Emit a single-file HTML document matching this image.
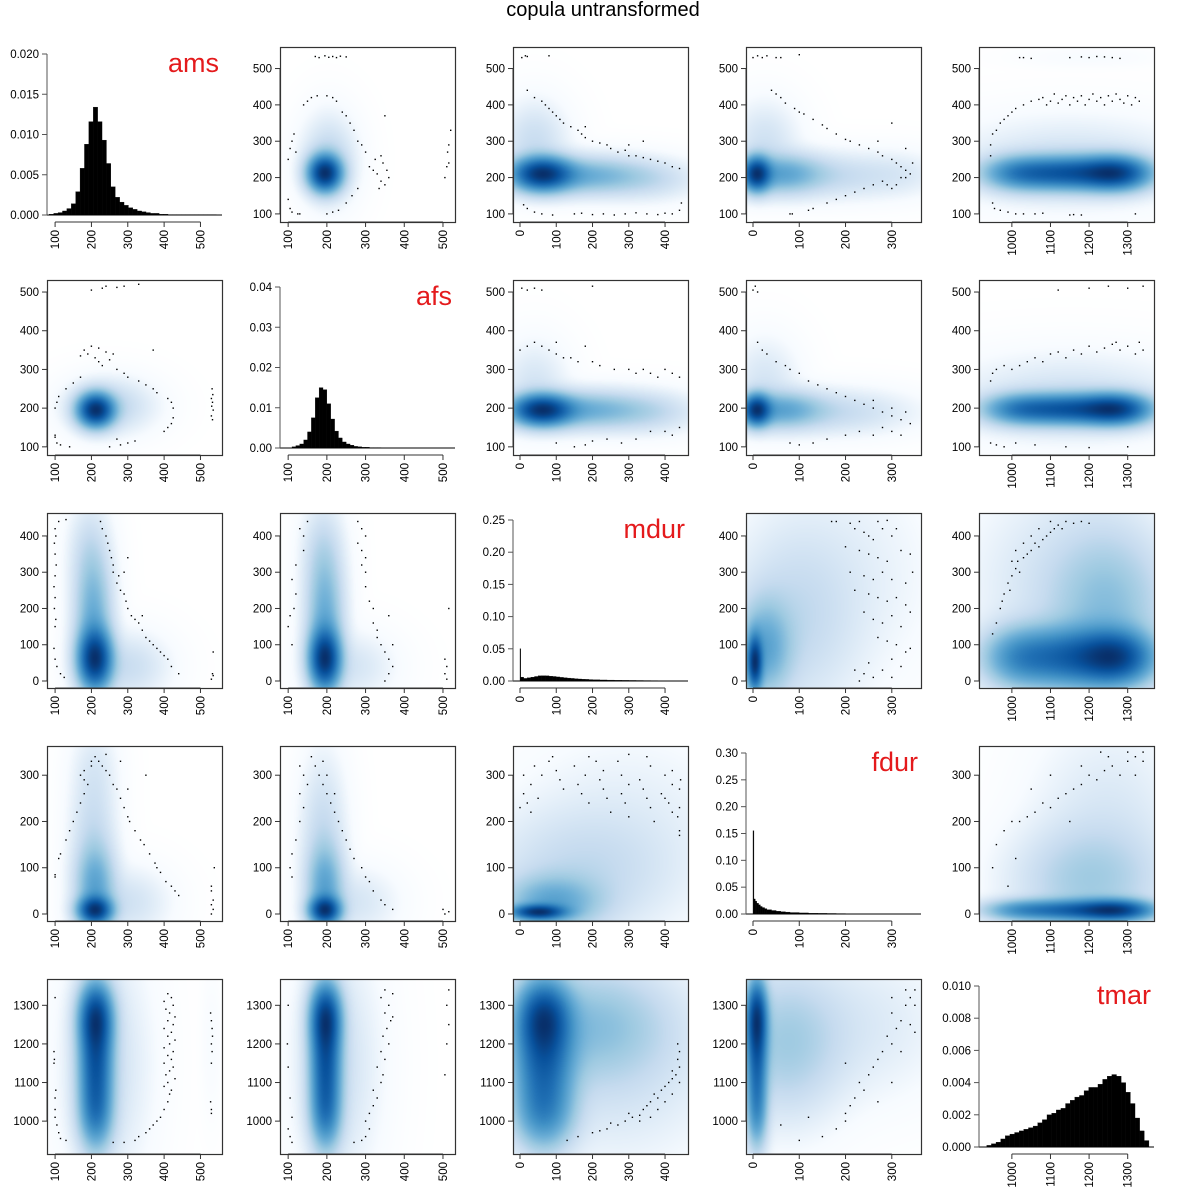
<!DOCTYPE html>
<html><head><meta charset="utf-8"><style>
html,body{margin:0;padding:0;background:#fff}
#wrap{position:relative;width:1200px;height:1200px}
canvas,svg{position:absolute;left:0;top:0}
svg text{font-family:"Liberation Sans",sans-serif}
</style></head><body>
<div id="wrap">
<canvas id="cv" width="1200" height="1200"></canvas>
<svg id="sv" width="1200" height="1200" xmlns="http://www.w3.org/2000/svg">
<text x="603" y="16" font-size="20" text-anchor="middle">copula untransformed</text>
</svg>
</div>
<script>
const varNames = ['ams','afs','mdur','fdur','tmar'];
const varMin = [97, 97, 0, 0, 933];
const varMax = [540, 513, 444, 348, 1350];
const ticks_ams = [100,200,300,400,500];
const ticks_afs = [100,200,300,400,500];
const ticks_mdur = [0,100,200,300,400];
const ticks_fdur = [0,100,200,300];
const ticks_tmar = [1000,1100,1200,1300];
const histMax = [0.020, 0.04, 0.25, 0.30, 0.010];
const histTicks_ams = ['0.000','0.005','0.010','0.015','0.020'];
const histTicks_afs = ['0.00','0.01','0.02','0.03','0.04'];
const histTicks_mdur = ['0.00','0.05','0.10','0.15','0.20','0.25'];
const histTicks_fdur = ['0.00','0.05','0.10','0.15','0.20','0.25','0.30'];
const histTicks_tmar = ['0.000','0.002','0.004','0.006','0.008','0.010'];

const hist_ams_start = 84, hist_ams_width = 12.1;
const hist_ams = [0.0001,0.0002,0.0003,0.0005,0.0008,0.0014,0.0029,0.0058,0.0088,0.0116,0.0134,0.0116,0.0093,0.0064,0.0035,0.0022,0.0016,0.0012,0.0009,0.0007,0.0005,0.0004,0.0003,0.0002,0.0002,0.0001,0.0001,0.00005,0.00005,0.00005,0.00005,0.00005,0.00005,0.00005,0.00005,0.00005,0.00005,0.00005];
const hist_afs_start = 110, hist_afs_width = 10;
const hist_afs = [0.0003,0.0006,0.001,0.002,0.004,0.0075,0.0125,0.015,0.0145,0.011,0.0072,0.0042,0.0025,0.0015,0.001,0.0007,0.0004,0.0003,0.0002,0.0002,0.0001,0.0001,0.0001,0.00005,0.00005,0.00005,0.00005,0.00005,0.00005,0.00005,0.00005,0.00005,0.00005,0.00005,0.00005,0.00005,0.00005,0.00005,0.00005,0.00005];
const hist_mdur_edges = [0,2,10,20,30,40,50,60,70,80,90,100,110,120,130,140,150,160,170,180,190,200,220,240,260,280,300,320,340,360,380,400,420,444];
const hist_mdur = [0.05,0.006,0.004,0.005,0.006,0.007,0.008,0.0082,0.008,0.0075,0.007,0.0063,0.0056,0.005,0.0045,0.004,0.0035,0.0031,0.0028,0.0025,0.0022,0.0019,0.0016,0.0014,0.0012,0.001,0.0009,0.0008,0.0007,0.0006,0.0005,0.0005,0.0004];
const hist_fdur_edges = [0,2,5,8,12,16,20,25,30,40,50,60,70,80,100,120,140,160,180,200,230,260,290,320,348];
const hist_fdur = [0.155,0.028,0.024,0.02,0.017,0.014,0.012,0.01,0.008,0.0065,0.0052,0.0042,0.0035,0.0027,0.002,0.0015,0.0012,0.001,0.0008,0.0006,0.0005,0.0004,0.0003,0.0003];
const hist_tmar_start = 935, hist_tmar_width = 12;
const hist_tmar = [0.0001,0.0002,0.0003,0.0005,0.0007,0.0008,0.0009,0.001,0.0011,0.0012,0.0013,0.0015,0.0017,0.002,0.0021,0.0023,0.0024,0.0027,0.0029,0.0031,0.0032,0.0035,0.0037,0.0037,0.0039,0.0042,0.0044,0.0045,0.0044,0.004,0.0034,0.0027,0.0018,0.001,0.0004];

// density blobs [cx, cy, sx, sy, weight]; pair (a,b): x = var b, y = var a
const blobs_ams_afs = [[195,212,26,30,1],[205,250,38,65,0.08]];
const blobs_ams_mdur = [[60,210,50,28,1],[180,205,100,30,0.25],[350,195,80,32,0.06],[40,300,50,60,0.06]];
const blobs_ams_fdur = [[8,210,18,28,1],[60,210,55,32,0.3],[180,205,90,35,0.07],[320,210,50,35,0.02],[25,300,40,60,0.05]];
const blobs_ams_tmar = [[1270,212,55,28,1],[1150,212,80,28,0.85],[1020,212,60,28,0.5],[1150,240,170,65,0.06],[1200,530,100,14,0.004]];
const blobs_afs_mdur = [[60,195,50,24,1],[180,195,100,28,0.25],[350,190,80,30,0.07],[40,260,50,60,0.04]];
const blobs_afs_fdur = [[8,195,18,24,1],[60,195,55,28,0.3],[180,190,90,32,0.07],[25,270,40,60,0.04]];
const blobs_afs_tmar = [[1270,197,55,24,1],[1150,197,80,24,0.85],[1020,197,60,24,0.5],[1150,225,170,60,0.06]];
const blobs_mdur_fdur = [[4,50,10,45,1],[25,90,35,80,0.3],[90,170,80,150,0.08],[200,300,110,170,0.02]];
const blobs_mdur_tmar = [[1270,65,60,45,1],[1150,65,80,50,0.75],[1020,65,60,50,0.45],[1250,200,90,130,0.2],[1150,260,140,160,0.06]];
const blobs_fdur_tmar = [[1270,8,60,14,1],[1150,8,80,14,0.65],[1020,8,60,14,0.35],[1200,70,110,70,0.15],[1250,200,110,120,0.04]];

const pts_ams_afs = [[170,533],[180,530],[195,535],[205,531],[215,533],[225,530],[235,534],[250,532],[100,250],[105,280],[110,300],[115,320],[120,270],[100,140],[105,115],[110,105],[125,100],[130,100],[140,400],[150,410],[160,420],[175,425],[200,425],[215,420],[225,410],[240,380],[250,370],[260,350],[270,330],[280,300],[290,290],[300,270],[310,230],[320,220],[330,210],[340,190],[350,180],[360,200],[345,240],[335,170],[355,220],[325,250],[340,260],[350,370],[200,100],[215,105],[230,110],[250,130],[265,150],[280,170],[505,200],[510,230],[515,240],[512,270],[520,330],[515,290]];
const pts_ams_mdur = [[5,530],[15,535],[20,533],[80,535],[20,440],[40,420],[60,410],[70,400],[80,390],[90,380],[100,370],[110,360],[120,350],[140,340],[160,330],[170,320],[180,310],[200,300],[220,295],[240,290],[250,280],[270,270],[290,275],[300,260],[320,260],[340,255],[360,250],[380,245],[400,240],[420,230],[440,225],[340,300],[180,340],[300,290],[10,125],[20,115],[40,105],[60,100],[90,97],[150,100],[170,102],[200,98],[230,100],[260,97],[290,100],[320,103],[350,100],[380,98],[400,102],[420,100],[440,110],[445,130]];
const pts_ams_fdur = [[0,530],[10,535],[20,530],[30,535],[50,530],[60,530],[100,538],[40,440],[50,430],[60,420],[70,405],[90,390],[100,380],[110,375],[130,360],[150,345],[160,335],[180,320],[200,305],[210,300],[230,290],[250,280],[270,270],[280,260],[300,250],[310,240],[320,230],[330,220],[340,210],[300,350],[330,280],[345,240],[270,300],[320,200],[80,100],[85,100],[120,110],[130,115],[160,130],[180,140],[200,150],[220,160],[240,170],[260,180],[280,190],[290,180],[300,170],[310,180],[330,200]];
const pts_ams_tmar = [[1020,530],[1030,530],[1050,528],[1150,530],[1180,532],[1200,530],[1220,533],[1240,532],[1260,530],[1280,528],[945,260],[945,290],[950,320],[960,330],[970,350],[980,360],[990,370],[1000,380],[1010,390],[1030,400],[1050,410],[1070,415],[1080,420],[1090,400],[1100,410],[1110,430],[1120,405],[1130,415],[1140,425],[1150,400],[1160,420],[1170,410],[1180,425],[1190,400],[1200,415],[1210,430],[1220,410],[1230,420],[1240,400],[1250,425],[1260,410],[1270,430],[1280,415],[1290,405],[1300,425],[1310,400],[1320,420],[1330,410],[950,130],[955,115],[970,110],[990,105],[1010,100],[1030,100],[1060,100],[1080,102],[1150,97],[1160,98],[1180,97],[1320,100]];
const pts_afs_mdur = [[5,510],[20,505],[40,510],[60,505],[200,515],[0,350],[20,360],[40,370],[60,360],[80,350],[100,340],[120,330],[140,330],[160,320],[200,320],[220,310],[260,300],[300,300],[320,290],[340,300],[360,290],[380,280],[400,300],[420,290],[440,280],[100,370],[180,360],[100,110],[150,100],[180,105],[200,115],[240,120],[280,110],[320,120],[360,140],[400,140],[420,130],[440,150]];
const pts_afs_fdur = [[0,505],[5,515],[10,500],[10,370],[20,350],[30,340],[50,320],[70,310],[80,300],[100,290],[120,270],[140,260],[160,250],[180,240],[200,230],[220,220],[240,210],[260,200],[280,190],[300,180],[320,170],[340,160],[300,200],[330,190],[260,220],[80,110],[100,105],[130,110],[160,120],[200,130],[230,140],[260,130],[280,150],[300,140],[320,130]];
const pts_afs_tmar = [[1120,505],[1200,510],[1250,515],[1300,510],[1340,515],[945,270],[950,290],[960,300],[980,310],[1000,300],[1020,310],[1040,320],[1060,330],[1080,320],[1100,340],[1120,345],[1140,330],[1160,350],[1180,340],[1200,360],[1220,345],[1240,355],[1260,365],[1280,350],[1300,360],[1320,340],[1340,350],[1330,370],[1270,370],[945,110],[960,105],[980,100],[1010,110],[1060,105],[1140,100],[1200,98],[1300,100]];
const pts_mdur_fdur = [[170,440],[210,435],[230,440],[270,440],[290,443],[220,420],[240,410],[250,400],[260,390],[280,420],[300,400],[200,370],[230,360],[250,350],[270,340],[290,330],[320,360],[340,350],[210,300],[240,290],[260,280],[280,300],[300,280],[330,270],[345,300],[220,250],[250,240],[270,230],[290,220],[310,230],[330,210],[240,190],[260,170],[280,160],[300,180],[320,150],[340,190],[270,120],[290,110],[310,100],[330,80],[300,60],[320,40],[340,90],[220,30],[240,20],[260,10],[280,30],[300,10],[230,0],[250,50],[180,440],[310,420]];
const pts_mdur_tmar = [[950,130],[960,160],[970,200],[975,220],[980,240],[990,270],[995,250],[1000,290],[1010,310],[1015,330],[1020,300],[1030,340],[1040,350],[1050,360],[1060,380],[1070,370],[1080,390],[1090,400],[1100,410],[1110,420],[1120,430],[1140,440],[1160,435],[1180,440],[1200,435],[1010,360],[1050,400],[1070,420],[1000,330],[1030,380],[1100,440],[1130,420]];
const pts_fdur_tmar = [[950,100],[960,150],[980,180],[1000,200],[1020,200],[1040,210],[1060,220],[1080,240],[1100,230],[1120,250],[1140,260],[1160,270],[1180,280],[1200,300],[1220,290],[1240,310],[1260,320],[1280,300],[1300,330],[1320,340],[1340,350],[1180,320],[1250,340],[1300,350],[1150,200],[1100,300],[1320,300],[1050,270],[990,60],[1010,120],[1230,350],[1340,330]];

const tickLists = [ticks_ams, ticks_afs, ticks_mdur, ticks_fdur, ticks_tmar];
const histTickLists = [histTicks_ams, histTicks_afs, histTicks_mdur, histTicks_fdur, histTicks_tmar];
const pairBlobs = {'0-1':blobs_ams_afs,'0-2':blobs_ams_mdur,'0-3':blobs_ams_fdur,'0-4':blobs_ams_tmar,'1-2':blobs_afs_mdur,'1-3':blobs_afs_fdur,'1-4':blobs_afs_tmar,'2-3':blobs_mdur_fdur,'2-4':blobs_mdur_tmar,'3-4':blobs_fdur_tmar};
const pairPts = {'0-1':pts_ams_afs,'0-2':pts_ams_mdur,'0-3':pts_ams_fdur,'0-4':pts_ams_tmar,'1-2':pts_afs_mdur,'1-3':pts_afs_fdur,'1-4':pts_afs_tmar,'2-3':pts_mdur_fdur,'2-4':pts_mdur_tmar,'3-4':pts_fdur_tmar};

const NS = 'http://www.w3.org/2000/svg';
const sv = document.getElementById('sv');
const ctx = document.getElementById('cv').getContext('2d');
const P = 175, PITCH = 233, OFF = 47, PAD = 7;
function pl(c){return OFF + PITCH*c;}
function xs(v,c,val){return pl(c)+PAD+(val-varMin[v])/(varMax[v]-varMin[v])*(P-2*PAD);}
function ys(v,r,val){return pl(r)+P-PAD-(val-varMin[v])/(varMax[v]-varMin[v])*(P-2*PAD);}
function xinv(v,c,px){return varMin[v]+(px-pl(c)-PAD)/(P-2*PAD)*(varMax[v]-varMin[v]);}
function yinv(v,r,py){return varMin[v]+(pl(r)+P-PAD-py)/(P-2*PAD)*(varMax[v]-varMin[v]);}
function mk(tag, attrs, parent){const e=document.createElementNS(NS,tag);for(const k in attrs)e.setAttribute(k,attrs[k]);(parent||sv).appendChild(e);return e;}

const ramp = ['#FFFFFF','#F7FBFF','#DEEBF7','#C6DBEF','#9ECAE1','#6BAED6','#4292C6','#2171B5','#08519C','#08306B'].map(h=>[parseInt(h.substr(1,2),16),parseInt(h.substr(3,2),16),parseInt(h.substr(5,2),16)]);
function col(t){t=Math.max(0,Math.min(1,t))*(ramp.length-1);const i=Math.min(ramp.length-2,Math.floor(t)),f=t-i;return ramp[i].map((a,k)=>Math.round(a+(ramp[i+1][k]-a)*f));}

for(let r=0;r<5;r++){for(let c=0;c<5;c++){
  const L=pl(c), T=pl(r);
  const g = mk('g',{});
  
  
  if(r!==c){
    const a=Math.min(r,c), b=Math.max(r,c), key=a+'-'+b;
    const swap = r>c;
    const bl = pairBlobs[key].map(q=> swap?[q[1],q[0],q[3],q[2],q[4]]:q);
    const img = ctx.createImageData(P,P);
    const vals = new Float32Array(P*P); let mx=0;
    for(let j=0;j<P;j++){for(let i=0;i<P;i++){
      const x=xinv(c,c,L+i+0.5), y=yinv(r,r,T+j+0.5);
      let d=0; for(const q of bl){const dx=(x-q[0])/q[2], dy=(y-q[1])/q[3]; d+=q[4]*Math.exp(-0.5*(dx*dx+dy*dy));}
      vals[j*P+i]=d; if(d>mx)mx=d;
    }}
    for(let k=0;k<P*P;k++){const cc=col(Math.pow(vals[k]/mx,0.4));img.data[k*4]=cc[0];img.data[k*4+1]=cc[1];img.data[k*4+2]=cc[2];img.data[k*4+3]=255;}
    ctx.putImageData(img,L,T);
    const box = mk('rect',{x:L+0.5,y:T+0.5,width:P,height:P,fill:'none',stroke:'#333','stroke-width':1.2},g);
    
    
    const pg = mk('g',{},g);
    
    
    for(const p of pairPts[key]){
      const vx = swap?p[1]:p[0], vy = swap?p[0]:p[1];
      const dot = mk('rect',{x:(xs(c,c,vx)-0.7).toFixed(1),y:(ys(r,r,vy)-0.7).toFixed(1),width:1.4,height:1.4,fill:'#000'},pg);
      
      
    }
    const yt = tickLists[r];
    mk('line',{x1:L,x2:L,y1:ys(r,r,yt[0]),y2:ys(r,r,yt[yt.length-1]),stroke:'#333'},g);
    for(const t of yt){const y=ys(r,r,t);mk('line',{x1:L-5,x2:L,y1:y,y2:y,stroke:'#333'},g);
      const tx=mk('text',{x:L-8,y:y+4,'font-size':11.5,'text-anchor':'end'},g);tx.textContent=t;
      
      }
  } else {
    const v=r, hg=mk('g',{},g);
    
    
    let edges, h;
    if(v===0){h=hist_ams;edges=h.map((_,k)=>hist_ams_start+k*hist_ams_width);edges.push(hist_ams_start+h.length*hist_ams_width);}
    else if(v===1){h=hist_afs;edges=h.map((_,k)=>hist_afs_start+k*hist_afs_width);edges.push(hist_afs_start+h.length*hist_afs_width);}
    else if(v===2){h=hist_mdur;edges=hist_mdur_edges;}
    else if(v===3){h=hist_fdur;edges=hist_fdur_edges;}
    else {h=hist_tmar;edges=h.map((_,k)=>hist_tmar_start+k*hist_tmar_width);edges.push(hist_tmar_start+h.length*hist_tmar_width);}
    const base=T+P-PAD;
    const hy = val=> base - val/histMax[v]*(P-2*PAD);
    for(let k=0;k<h.length;k++){
      const x0=Math.max(L,xs(v,c,edges[k])), x1=Math.min(L+P,xs(v,c,edges[k+1]));
      const bar=mk('rect',{x:x0.toFixed(2),y:hy(h[k]).toFixed(2),width:Math.max(0.5,x1-x0).toFixed(2),height:(base-hy(h[k])).toFixed(2),fill:'#000',stroke:'#000','stroke-width':0.3},hg);
      
      
    }
    mk('line',{x1:L,x2:L+P,y1:base,y2:base,stroke:'#000','stroke-width':1},g);
    const lab = histTickLists[v];
    mk('line',{x1:L,x2:L,y1:base,y2:T+PAD,stroke:'#555'},g);
    for(let k=0;k<lab.length;k++){const val=histMax[v]*k/(lab.length-1);const y=hy(val);
      mk('line',{x1:L-5,x2:L,y1:y,y2:y,stroke:'#555'},g);
      const tx=mk('text',{x:L-8,y:y+4,'font-size':11.5,'text-anchor':'end'},g);tx.textContent=lab[k];
      
      }
    const nm=mk('text',{x:L+P-3,y:T+25,'font-size':27,'text-anchor':'end',fill:'#E41A1C'},g);nm.textContent=varNames[v];
    
    
  }
  const xt=tickLists[c], ay=T+P;
  mk('line',{x1:xs(c,c,xt[0]),x2:xs(c,c,xt[xt.length-1]),y1:ay,y2:ay,stroke:'#333'},g);
  for(const t of xt){const x=xs(c,c,t);mk('line',{x1:x,x2:x,y1:ay,y2:ay+5,stroke:'#333'},g);
    const tx=mk('text',{x:0,y:0,'font-size':11.5,'text-anchor':'end',transform:'translate('+(x+4)+','+(ay+8)+') rotate(-90)'},g);tx.textContent=t;
    
    }
}}
</script>
</body></html>
